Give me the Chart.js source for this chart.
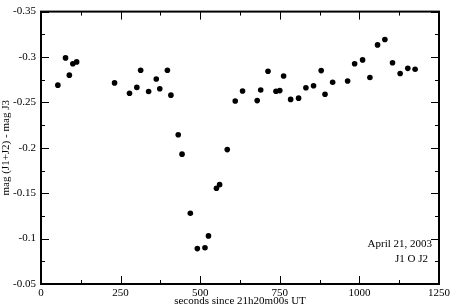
<!DOCTYPE html>
<html>
<head>
<meta charset="utf-8">
<script src="https://cdn.jsdelivr.net/npm/chart.js@4.4.0/dist/chart.umd.min.js"></script>
<style>
  html,body{margin:0;padding:0;background:#fff;}
  #wrap{width:453px;height:308px;position:relative;}
</style>
</head>
<body>
<div id="wrap"><canvas id="myChart" width="453" height="308"></canvas></div>
<script>
// seconds since 21h20m00s UT
var secs = [53, 77, 89, 100, 112, 231, 278, 301, 313, 338, 362, 373, 397, 408, 431, 443,
  469, 491, 515, 526, 551, 561, 585, 610, 633, 679, 690, 713, 738, 750, 762, 784, 809,
  832, 856, 880, 892, 916, 963, 985, 1010, 1033, 1057, 1080, 1104, 1128, 1152, 1175];
// mag (J1+J2) - mag J3
var mags = [-0.269, -0.299, -0.280, -0.2925, -0.2946, -0.2715, -0.260, -0.2665, -0.2854, -0.262,
  -0.2758, -0.265, -0.2854, -0.258, -0.2143, -0.193,
  -0.128, -0.089, -0.090, -0.103, -0.1554, -0.1594, -0.198, -0.2515, -0.2625, -0.252, -0.2636,
  -0.2843, -0.2622, -0.263, -0.279, -0.2533, -0.2547, -0.2661, -0.2683, -0.285, -0.259,
  -0.2722, -0.2736, -0.2925, -0.2968, -0.2775, -0.3133, -0.3193, -0.2936, -0.2818, -0.2875, -0.2865];
var xTicks = [0, 250, 500, 750, 1000, 1250];
var xLabels = ['0', '250', '500', '750', '1000', '1250'];
var yTicks = [-0.35, -0.3, -0.25, -0.2, -0.15, -0.1, -0.05];
var yLabels = ['-0.35', '-0.3', '-0.25', '-0.2', '-0.15', '-0.1', '-0.05'];
var notes = ['April 21, 2003', 'J1 O J2'];

var pts = secs.map(function(s, i){ return {x: s, y: mags[i]}; });
var serif = "'Liberation Serif', 'DejaVu Serif', serif";

// frame + inward tick marks
var frame = {
  id: 'frame',
  afterDraw: function(chart){
    var ctx = chart.ctx, a = chart.chartArea;
    var xs = chart.scales.x, ys = chart.scales.y;
    ctx.save();
    ctx.strokeStyle = '#000';
    ctx.lineWidth = 1;
    ctx.beginPath();
    for (var v = 0; v <= 1250; v += 125) {
      var px = Math.round(xs.getPixelForValue(v)) + 0.5;
      var len = (v % 250 === 0) ? 8 : 4;
      ctx.moveTo(px, a.bottom); ctx.lineTo(px, a.bottom - len);
      ctx.moveTo(px, a.top); ctx.lineTo(px, a.top + len);
    }
    for (var k = 0; k <= 12; k++) {
      var val = -0.35 + k * 0.025;
      var py = Math.round(ys.getPixelForValue(val)) + 0.5;
      var l2 = (k % 2 === 0) ? 8 : 4;
      ctx.moveTo(a.left, py); ctx.lineTo(a.left + l2, py);
      ctx.moveTo(a.right, py); ctx.lineTo(a.right - l2, py);
    }
    ctx.stroke();
    ctx.lineWidth = 2;
    ctx.strokeRect(a.left, a.top, a.right - a.left, a.bottom - a.top);
    ctx.fillStyle = '#000';
    ctx.font = '11px ' + serif;
    ctx.textAlign = 'right';
    ctx.textBaseline = 'alphabetic';
    ctx.fillText(notes[0], a.right - 7, a.bottom - 37);
    ctx.fillText(notes[1], a.right - 11, a.bottom - 22);
    ctx.restore();
  }
};

var ctx = document.getElementById('myChart');
var myChart = new Chart(ctx, {
  type: 'scatter',
  data: {
    datasets: [{
      data: pts,
      backgroundColor: '#000',
      borderColor: '#000',
      pointRadius: 2.8,
      pointBorderWidth: 0
    }]
  },
  options: {
    responsive: false,
    animation: false,
    layout: {padding: {top: 4, right: 12, left: 0, bottom: 0}},
    plugins: {legend: {display: false}, tooltip: {enabled: false}},
    scales: {
      x: {
        type: 'linear', min: 0, max: 1250,
        grid: {display: false, drawTicks: false},
        border: {display: false},
        afterBuildTicks: function(s){ s.ticks = xTicks.map(function(v){ return {value: v}; }); },
        afterFit: function(s){ s.height = 24; },
        ticks: {color: '#000', padding: 3, maxRotation: 0, font: {family: serif, size: 11},
          callback: function(v, i){ return xLabels[i]; }},
        title: {display: true, text: 'seconds since 21h20m00s UT', color: '#000', padding: 0,
          font: {family: serif, size: 11}}
      },
      y: {
        type: 'linear', reverse: true, min: -0.35, max: -0.05,
        grid: {display: false, drawTicks: false},
        border: {display: false},
        afterBuildTicks: function(s){ s.ticks = yTicks.map(function(v){ return {value: v}; }); },
        afterFit: function(s){ s.width = 41; },
        ticks: {color: '#000', padding: 5, font: {family: serif, size: 11},
          callback: function(v, i){ return yLabels[i]; }},
        title: {display: true, text: 'mag (J1+J2) - mag J3', color: '#000', padding: 0,
          font: {family: serif, size: 11}}
      }
    }
  },
  plugins: [frame]
});
</script>
</body>
</html>
